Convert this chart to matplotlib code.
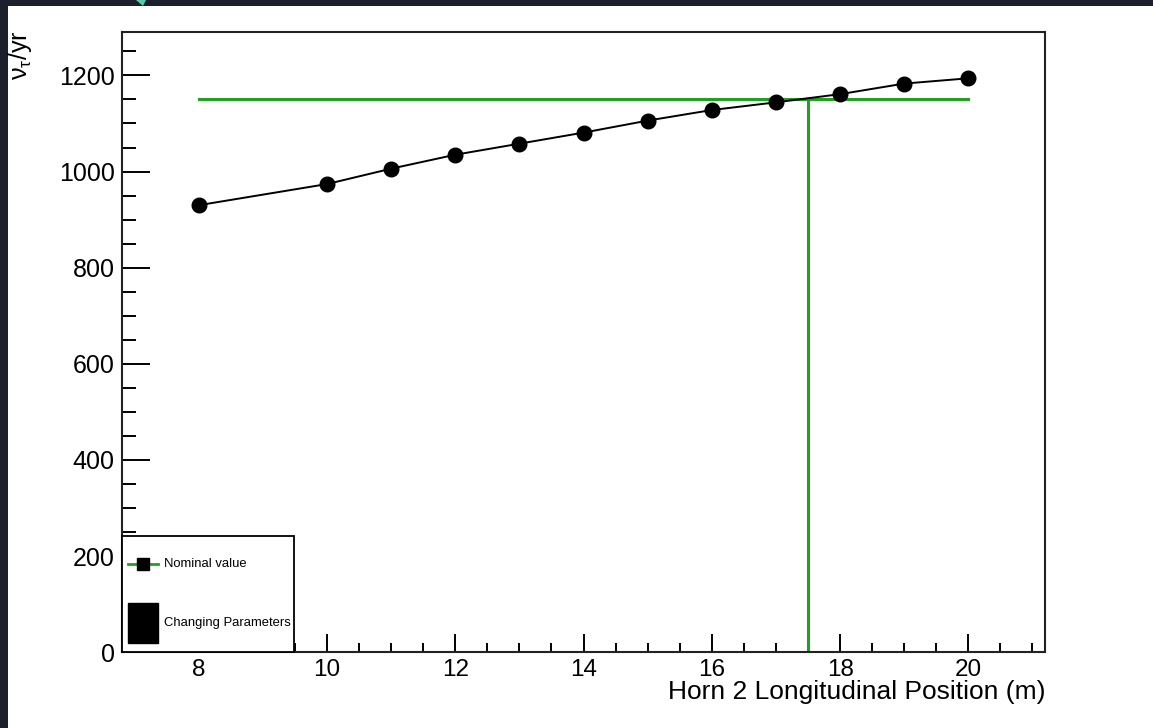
import matplotlib
matplotlib.use("Agg")
import matplotlib.pyplot as plt
from matplotlib.patches import Rectangle, Polygon
from matplotlib.ticker import MultipleLocator

# horn 2 position scan
positions = [8, 10, 11, 12, 13, 14, 15, 16, 17, 18, 19, 20]
nutau_rate = [930, 974, 1006, 1035, 1058, 1081, 1106, 1128, 1144, 1161, 1183, 1194]

nominal_rate = 1151
nominal_position = 17.5
x_range = [6.8, 21.2]
y_range = [0, 1291]

legend_labels = ["Nominal value", "Changing Parameters"]

green = "#22a022"

plt.rcParams["font.family"] = ["Liberation Sans", "DejaVu Sans"]

fig = plt.figure(figsize=(11.53, 7.28), dpi=100, facecolor="#1b202c")
# white canvas inside the dark screenshot frame
fig.patches.append(Rectangle((8 / 1153, 0), 1, 722 / 728, transform=fig.transFigure,
                             facecolor="white", edgecolor="none", zorder=-10))
fig.patches.append(Polygon([(136 / 1153, 1), (146 / 1153, 1), (143 / 1153, 722 / 728)],
                           closed=True, transform=fig.transFigure,
                           facecolor="#5cc7a6", edgecolor="none", zorder=-9))

ax = fig.add_axes([0.1056, 0.104, 0.801, 0.8525])
ax.set_facecolor("white")

# nominal value lines
ax.plot([positions[0], positions[-1]], [nominal_rate, nominal_rate], color=green, lw=2.2, zorder=2)
ax.plot([nominal_position, nominal_position], [0, nominal_rate], color=green, lw=2.2, zorder=2)

ax.plot(positions, nutau_rate, color="black", lw=1.4, marker="o", markersize=10.5, zorder=3)

ax.set_xlim(x_range)
ax.set_ylim(y_range)

ax.xaxis.set_major_locator(MultipleLocator(2))
ax.xaxis.set_minor_locator(MultipleLocator(0.5))
ax.yaxis.set_major_locator(MultipleLocator(200))
ax.yaxis.set_minor_locator(MultipleLocator(50))

ax.tick_params(axis="both", which="both", direction="in", top=False, right=False,
               width=1.4, color="black")
ax.tick_params(axis="x", which="major", length=13, labelsize=17.5, pad=5)
ax.tick_params(axis="x", which="minor", length=6.5)
ax.tick_params(axis="y", which="major", length=20, labelsize=18, pad=5)
ax.tick_params(axis="y", which="minor", length=10)

for s in ax.spines.values():
    s.set_linewidth(1.5)
    s.set_color("#222222")

ax.set_xlabel("Horn 2 Longitudinal Position (m)", fontsize=19, loc="right", labelpad=-1)
fig.text(20 / 1153, 1 - 30 / 728, r"$\mathregular{\nu_{\tau}}$/yr", rotation=90, fontsize=18,
         ha="center", va="top")

# legend box, drawn by hand (ROOT style)
ax.add_patch(Rectangle((0, 0), 0.187, 0.187, transform=ax.transAxes, facecolor="white",
                       edgecolor="black", lw=1.3, zorder=5, clip_on=False))
ax.plot([0.0065, 0.039], [0.1417, 0.1417], transform=ax.transAxes, color=green, lw=2,
        zorder=6, clip_on=False)
ax.plot([0.0227], [0.1417], transform=ax.transAxes, marker="s", markersize=9,
        color="black", zorder=7, clip_on=False)
ax.text(0.0455, 0.1417, legend_labels[0], transform=ax.transAxes, fontsize=9.4,
        va="center", ha="left", zorder=7)
ax.add_patch(Rectangle((0.0065, 0.0145), 0.0325, 0.0645, transform=ax.transAxes,
                       facecolor="black", edgecolor="black", zorder=6, clip_on=False))
ax.text(0.0455, 0.0467, legend_labels[1], transform=ax.transAxes, fontsize=9.4,
        va="center", ha="left", zorder=7)

fig.savefig("out.png", dpi=100, facecolor=fig.get_facecolor())
